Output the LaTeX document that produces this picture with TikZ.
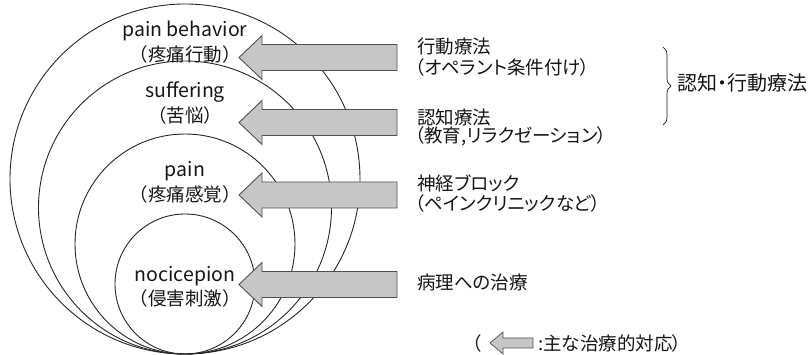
\documentclass[tikz,border=0pt]{standalone}
\usepackage{fontspec}
\setmainfont{Noto Sans CJK JP}
\newfontfamily\propjp{Noto Sans CJK JP}[RawFeature=+palt]
\usetikzlibrary{decorations.pathreplacing}
\definecolor{txt}{HTML}{151515}
\definecolor{arrfill}{HTML}{C6C6C6}
\definecolor{arrline}{HTML}{505050}
\tikzset{
  ring/.style={draw=black!85, line width=0.9pt},
  clatin/.style={text=txt, inner sep=0pt, anchor=base, font=\fontsize{19.5}{22}\selectfont},
  clabel/.style={text=txt, inner sep=0pt, font=\fontsize{18.5}{21}\selectfont},
  rlabel/.style={text=txt, inner sep=0pt, anchor=west, font=\propjp\fontsize{18.5}{21}\selectfont},
  blockarr/.style={fill=arrfill, draw=arrline, line width=0.9pt, line join=miter},
}
\newcommand\thblockarrow[4]{% tip x, head back x, end x, center y ; half heights 13/22
  \filldraw[blockarr] (#1,#4) -- (#2,#4-22) -- (#2,#4-13) -- (#3,#4-13) -- (#3,#4+13) -- (#2,#4+13) -- (#2,#4+22) -- cycle;}
\begin{document}
\begin{tikzpicture}[x=1pt,y=-1pt]
\useasboundingbox (0,0) rectangle (812,355);
% internally tangent circles
\draw[ring] (185,179) circle[radius=175pt];
\draw[ring] (185,207.5) circle[radius=146.5pt];
\draw[ring] (185,244) circle[radius=110pt];
\draw[ring] (185,284) circle[radius=70pt];
% block arrows
\thblockarrow{239}{262}{397}{57.5}
\thblockarrow{239}{262}{397}{122.5}
\thblockarrow{239}{262}{397}{195}
\thblockarrow{239}{262}{397}{284.5}
% circle labels
\node[clatin] (pb1) at (185,36.5) {pain behavior};
\node[clabel] (pb2) at (185,54) {（疼痛行動）};
\node[clatin] (su1) at (185,97.5) {suffering};
\node[clabel] (su2) at (185,115.5) {（苦悩）};
\node[clatin] (pa1) at (185,177) {pain};
\node[clabel] (pa2) at (185,194.5) {（疼痛感覚）};
\node[clatin] (no1) at (185,282) {nocicepion};
\node[clabel] (no2) at (185,298) {（侵害刺激）};
% right labels
\node[rlabel] (r1a) at (417,47) {行動療法};
\node[rlabel] (r1b) at (415,67) {（オペラント条件付け）};
\node[rlabel] (r2a) at (417,117) {認知療法};
\node[rlabel] (r2b) at (415,136) {（教育,リラクゼーション）};
\node[rlabel] (r3a) at (417,183) {神経ブロック};
\node[rlabel] (r3b) at (415,203) {（ペインクリニックなど）};
\node[rlabel] (r4a) at (417,282) {病理への治療};
% brace
\coordinate (bt) at (663,47);
\coordinate (bb) at (663,125);
\draw[decorate, decoration={brace, amplitude=8pt}, line width=0.7pt, draw=txt] (bt) -- (bb);
\node[rlabel, font=\propjp\fontsize{20}{22}\selectfont] (cbt) at (677,83) {認知・行動療法};
% legend
\node[rlabel] (lg1) at (472,343) {（};
\filldraw[blockarr, line width=0.7pt] (490,343) -- (503,332) -- (503,338) -- (533,338) -- (533,348) -- (503,348) -- (503,354) -- cycle;
\node[rlabel] (lg2) at (538,343) {:主な治療的対応）};
\end{tikzpicture}
\end{document}
